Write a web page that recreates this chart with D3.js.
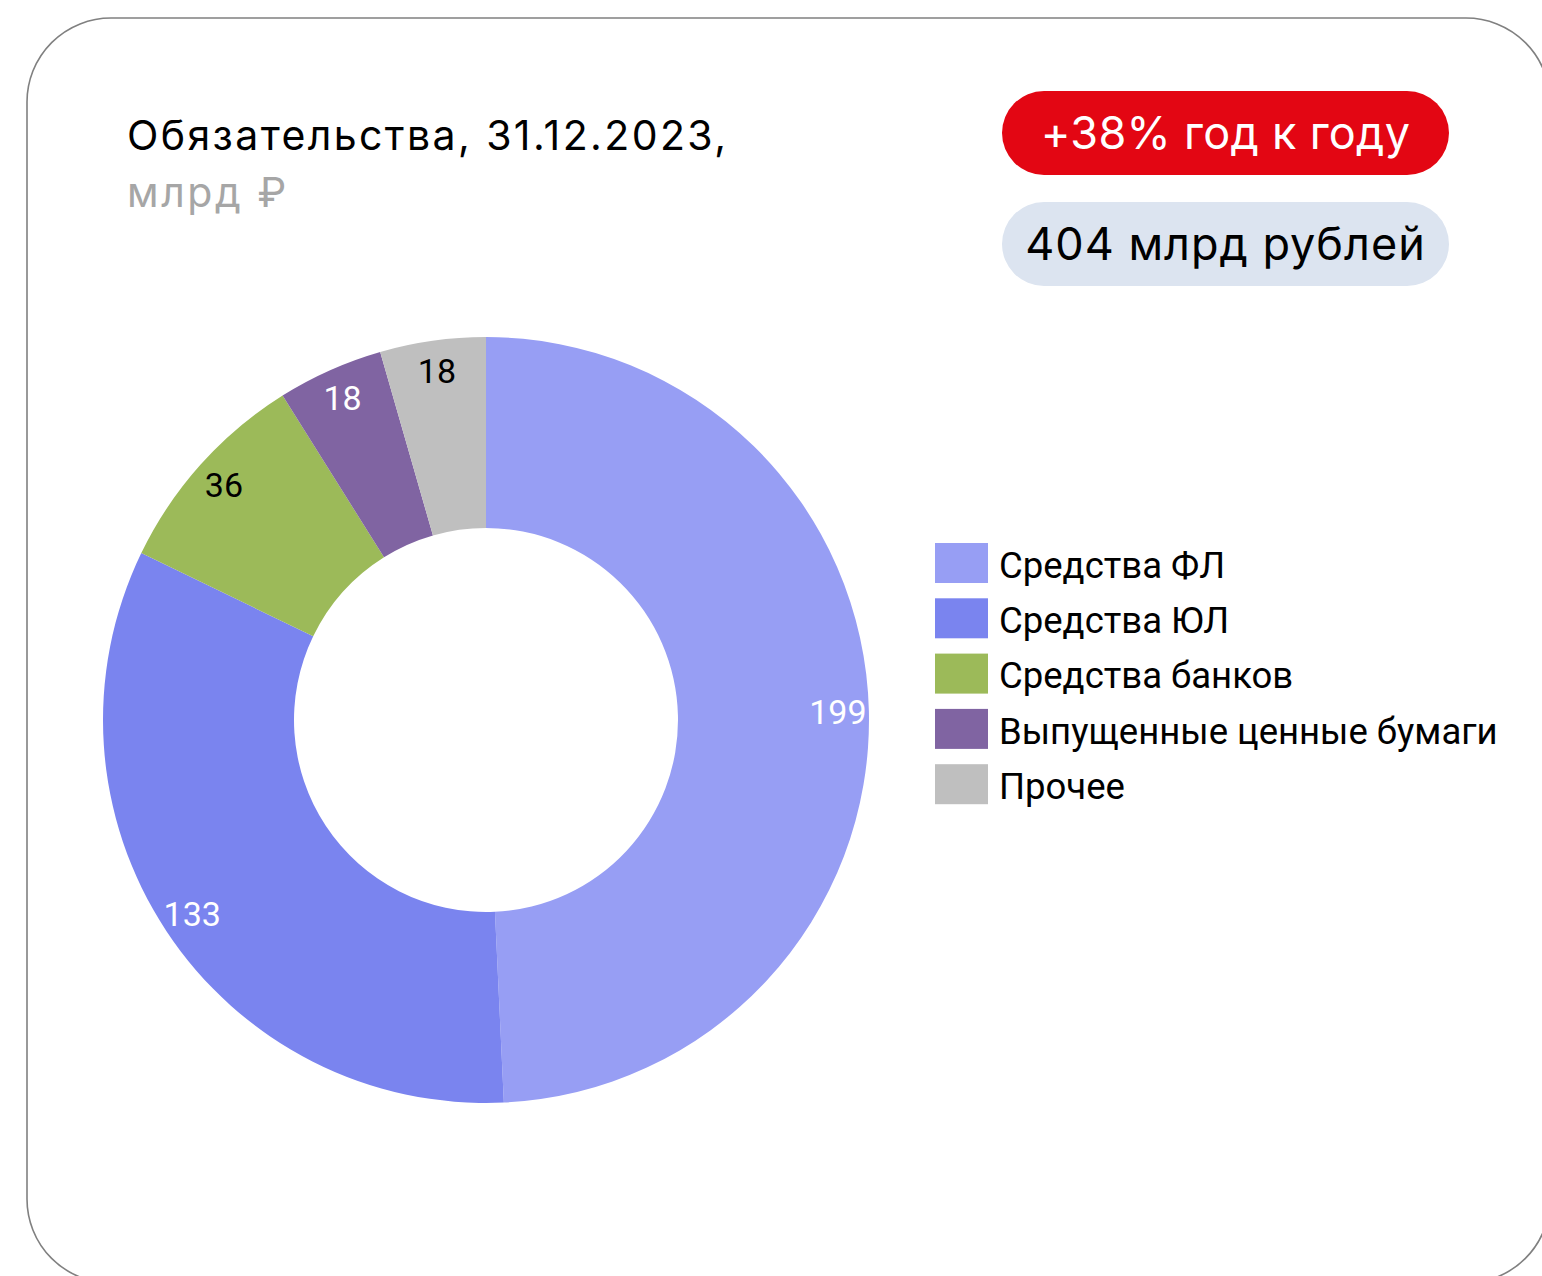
<!DOCTYPE html>
<html>
<head>
<meta charset="utf-8">
<script src="https://cdn.jsdelivr.net/npm/d3@7"></script>
<style>
  html, body { margin: 0; padding: 0; background: #fff; }
  svg { display: block; }
</style>
</head>
<body>
<div id="chart"></div>
<script>
// data
const categories = ["Средства ФЛ", "Средства ЮЛ", "Средства банков", "Выпущенные ценные бумаги", "Прочее"];
const values = [199, 133, 36, 18, 18];
const colors = ["#979ef4", "#7a84ef", "#9cba59", "#8064a2", "#bfbfbf"];
const labelColors = ["#fff", "#fff", "#000", "#fff", "#000"];
const titleText = "Обязательства, 31.12.2023,";
const unitText = "млрд ₽";
const badges = ["+38% год к году", "404 млрд рублей"];

const width = 1542, height = 1276;
const font = "Roboto, 'Noto Sans', sans-serif";
const wideFont = "Inter, Roboto, sans-serif";

const svg = d3.select("#chart").append("svg")
  .attr("width", width)
  .attr("height", height);

//#region Card
svg.append("rect")
  .attr("x", 27).attr("y", 18)
  .attr("width", 1523).attr("height", 1265)
  .attr("rx", 84).attr("ry", 84)
  .attr("fill", "#fff")
  .attr("stroke", "#808080")
  .attr("stroke-width", 1.6);
//#endregion

//#region Title
svg.append("text")
  .attr("x", 127).attr("y", 150)
  .style("font-family", wideFont)
  .style("font-size", "41px")
  .style("letter-spacing", "2.4px")
  .attr("fill", "#000")
  .text(titleText);

svg.append("text")
  .attr("x", 127).attr("y", 207)
  .style("font-family", wideFont)
  .style("font-size", "41px")
  .style("letter-spacing", "2.6px")
  .attr("fill", "#a6a6a6")
  .text(unitText);
//#endregion

//#region Badges
const badgeFill = ["#e30613", "#dce4f0"];
const badgeText = ["#fff", "#000"];
const badgeY = [91, 202];
badges.forEach((b, i) => {
  const g = svg.append("g").attr("transform", `translate(1002, ${badgeY[i]})`);
  g.append("rect")
    .attr("width", 447).attr("height", 84)
    .attr("rx", 42).attr("ry", 42)
    .attr("fill", badgeFill[i]);
  g.append("text")
    .attr("x", 223.5).attr("y", 42)
    .attr("dy", "0.36em")
    .attr("text-anchor", "middle")
    .style("font-family", wideFont)
    .style("font-size", "45px")
    .style("letter-spacing", i === 1 ? "1px" : "0.3px")
    .attr("fill", badgeText[i])
    .text(b);
});
//#endregion

//#region Donut
const cx = 486, cy = 720;
const outerR = 383, innerR = 192, labelR = 352;

const pie = d3.pie().sort(null).value(d => d)(values);
const arc = d3.arc().innerRadius(innerR).outerRadius(outerR);
const labelArc = d3.arc().innerRadius(labelR).outerRadius(labelR);

const donut = svg.append("g").attr("transform", `translate(${cx}, ${cy})`);

donut.selectAll("path")
  .data(pie)
  .join("path")
  .attr("d", arc)
  .attr("fill", (d, i) => colors[i]);

donut.selectAll("text")
  .data(pie)
  .join("text")
  .attr("transform", d => `translate(${labelArc.centroid(d)})`)
  .attr("text-anchor", "middle")
  .attr("dy", "0.35em")
  .style("font-family", font)
  .style("font-size", "34px")
  .attr("fill", (d, i) => labelColors[i])
  .text(d => d.data);
//#endregion

//#region Legend
const legend = svg.append("g").attr("transform", "translate(935, 543)");
const rowH = 55.3;

const rows = legend.selectAll("g")
  .data(categories)
  .join("g")
  .attr("transform", (d, i) => `translate(0, ${i * rowH})`);

rows.append("rect")
  .attr("width", 53).attr("height", 40)
  .attr("fill", (d, i) => colors[i]);

rows.append("text")
  .attr("x", 64).attr("y", 22)
  .attr("dy", "0.35em")
  .style("font-family", font)
  .style("font-size", "36.5px")
  .attr("fill", "#000")
  .text(d => d);
//#endregion
</script>
</body>
</html>
